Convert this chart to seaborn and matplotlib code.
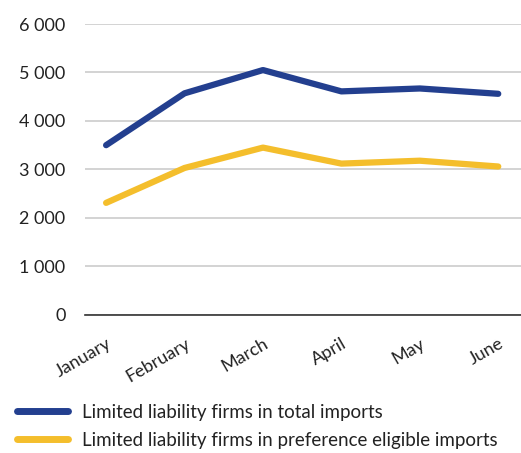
import matplotlib
matplotlib.use("Agg")
import matplotlib.pyplot as plt
import seaborn as sns
import pandas as pd
from matplotlib.lines import Line2D

months = ["January", "February", "March", "April", "May", "June"]
total_imports = [3500, 4570, 5050, 4610, 4670, 4560]
pref_eligible = [2310, 3030, 3450, 3120, 3180, 3060]
series_names = ["Limited liability firms in total imports",
                "Limited liability firms in preference eligible imports"]
yticks = [0, 1000, 2000, 3000, 4000, 5000, 6000]

sns.set_theme(style="white")
plt.rcParams['font.family'] = ['Lato', 'DejaVu Sans']

df = pd.DataFrame({
    "month": months * 2,
    "value": total_imports + pref_eligible,
    "series": [series_names[0]] * 6 + [series_names[1]] * 6,
})
df["x"] = list(range(6)) * 2

fig = plt.figure(figsize=(5.21, 4.53), dpi=100)
ax = fig.add_axes([0.163, 0.305, 0.837, 0.642])
palette = {series_names[0]: "#233F8F", series_names[1]: "#F4BE2C"}
sns.lineplot(data=df, x="x", y="value", hue="series", palette=palette,
             linewidth=4.5, ax=ax, legend=False, solid_capstyle="round")

ax.set_xlim(-0.27, 5.29)
ax.set_ylim(0, 6000)
ax.set_yticks(yticks)
ax.set_yticklabels([f"{v:,}".replace(",", " ") for v in yticks], fontsize=13, color="#222222")
ax.set_xticks(range(6))
ax.set_xticklabels(months, rotation=30, ha="right", rotation_mode="anchor", fontsize=13, color="#222222")
ax.tick_params(axis="y", pad=14, length=0)
ax.tick_params(axis="x", pad=15, length=0)
ax.set_xlabel("")
ax.set_ylabel("")
ax.grid(axis="y", color="#cccccc", linewidth=1.2)
for s in ["top", "right", "left"]:
    ax.spines[s].set_visible(False)
ax.spines["bottom"].set_color("#333333")
ax.spines["bottom"].set_linewidth(1.2)

handles = [Line2D([0], [0], color=palette[n], linewidth=5, solid_capstyle="round") for n in series_names]
fig.legend(handles, series_names, loc="lower left", bbox_to_anchor=(0.0, -0.028),
           frameon=False, fontsize=13.5, handlelength=2.7, handletextpad=0.8,
           labelspacing=0.6, labelcolor="#222222")

fig.savefig("out.png", dpi=100)
